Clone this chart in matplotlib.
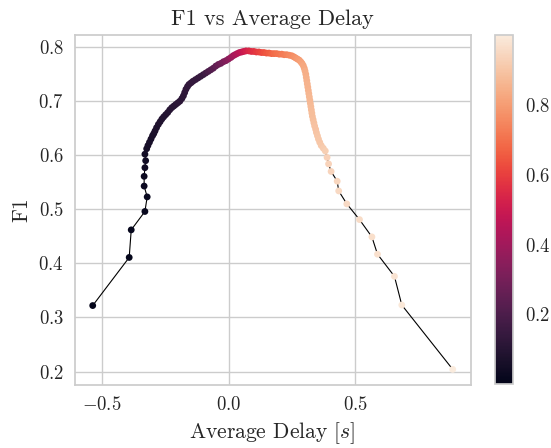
import matplotlib
matplotlib.use("Agg")
import matplotlib.pyplot as plt
import seaborn as sns

# average delay [s] per threshold
delay = [
    -0.536, -0.392, -0.384, -0.330, -0.321, -0.333, -0.333, -0.330, -0.327, -0.330, -0.323,
    -0.318, -0.312, -0.306, -0.300, -0.295, -0.290, -0.284, -0.277, -0.270, -0.263,
    -0.256, -0.248, -0.240, -0.232, -0.224, -0.216, -0.208, -0.200, -0.192, -0.184,
    -0.178, -0.173, -0.168, -0.162, -0.156, -0.148, -0.140, -0.130, -0.120, -0.110, -0.100,
    -0.090, -0.080, -0.070, -0.060, -0.050, -0.040, -0.030, -0.020, -0.010, 0.000,
    0.010, 0.018, 0.026, 0.034, 0.043, 0.052, 0.060, 0.069,
    0.080, 0.090, 0.100, 0.110, 0.120, 0.130, 0.140, 0.150, 0.160, 0.170,
    0.180, 0.190, 0.200, 0.210, 0.220, 0.230, 0.240, 0.250,
    0.258, 0.265, 0.272, 0.279, 0.285, 0.290, 0.295, 0.299,
    0.302, 0.305, 0.307, 0.309, 0.311, 0.313, 0.315, 0.317, 0.319, 0.321,
    0.323, 0.325, 0.327, 0.329, 0.331, 0.334, 0.337, 0.340, 0.344, 0.347,
    0.351, 0.355, 0.360, 0.366, 0.374,
    0.382, 0.389, 0.395, 0.405, 0.429, 0.435, 0.467, 0.517, 0.566, 0.588, 0.655, 0.684, 0.885,
]

f1 = [
    0.322, 0.411, 0.462, 0.496, 0.523, 0.543, 0.561, 0.577, 0.590, 0.602, 0.612,
    0.618, 0.624, 0.630, 0.636, 0.640, 0.645, 0.651, 0.657, 0.662, 0.667,
    0.671, 0.675, 0.679, 0.684, 0.688, 0.691, 0.694, 0.697, 0.700, 0.705,
    0.710, 0.716, 0.722, 0.727, 0.731, 0.734, 0.737, 0.740, 0.743, 0.746, 0.749,
    0.752, 0.755, 0.758, 0.761, 0.765, 0.768, 0.770, 0.773, 0.775, 0.778,
    0.781, 0.784, 0.786, 0.788, 0.790, 0.791, 0.792, 0.793,
    0.793, 0.792, 0.792, 0.791, 0.791, 0.790, 0.790, 0.789, 0.789, 0.788,
    0.788, 0.788, 0.787, 0.787, 0.786, 0.786, 0.785, 0.784,
    0.782, 0.780, 0.778, 0.776, 0.773, 0.770, 0.766, 0.761,
    0.756, 0.750, 0.744, 0.738, 0.732, 0.726, 0.720, 0.714, 0.708, 0.702,
    0.696, 0.690, 0.684, 0.678, 0.672, 0.666, 0.660, 0.654, 0.648, 0.642,
    0.636, 0.630, 0.624, 0.618, 0.613,
    0.608, 0.596, 0.584, 0.570, 0.552, 0.534, 0.510, 0.481, 0.449, 0.417, 0.376, 0.323, 0.204,
]

threshold = [
    0.005, 0.010, 0.015, 0.020, 0.025, 0.030, 0.035, 0.040, 0.045, 0.050, 0.055,
    0.060, 0.063, 0.066, 0.069, 0.072, 0.075, 0.078, 0.081, 0.084, 0.087,
    0.090, 0.093, 0.096, 0.099, 0.102, 0.105, 0.108, 0.111, 0.114, 0.117,
    0.120, 0.123, 0.126, 0.129, 0.132, 0.135, 0.138, 0.141, 0.144, 0.147, 0.150,
    0.170, 0.190, 0.210, 0.230, 0.250, 0.270, 0.290, 0.310, 0.330, 0.350,
    0.380, 0.400, 0.420, 0.440, 0.460, 0.480, 0.500, 0.520,
    0.540, 0.555, 0.570, 0.585, 0.600, 0.615, 0.630, 0.645, 0.660, 0.675,
    0.690, 0.700, 0.710, 0.720, 0.730, 0.740, 0.750, 0.760,
    0.770, 0.780, 0.790, 0.800, 0.810, 0.820, 0.825, 0.830,
    0.840, 0.843, 0.846, 0.849, 0.852, 0.855, 0.858, 0.861, 0.864, 0.867,
    0.870, 0.873, 0.876, 0.879, 0.882, 0.885, 0.888, 0.891, 0.894, 0.897,
    0.900, 0.903, 0.906, 0.910, 0.915,
    0.925, 0.930, 0.935, 0.940, 0.945, 0.950, 0.955, 0.960, 0.965, 0.970, 0.980, 0.990, 0.999,
]

sns.set_theme(style="whitegrid")
plt.rcParams["font.family"] = ["cmr10", "DejaVu Serif"]
plt.rcParams["mathtext.fontset"] = "cm"
plt.rcParams["axes.formatter.use_mathtext"] = True
plt.rcParams["axes.unicode_minus"] = True

fig = plt.figure(figsize=(5.51, 4.48), dpi=100)
ax = fig.add_axes([0.1356, 0.1400, 0.7187, 0.7819])
cax = fig.add_axes([0.8984, 0.1422, 0.0318, 0.7797])

ax.plot(delay, f1, color="black", lw=0.8, zorder=2)
sc = ax.scatter(delay, f1, c=threshold, cmap="rocket", vmin=0.0, vmax=1.0,
                s=24, linewidths=0, zorder=3)

ax.set_xticks([-0.5, 0.0, 0.5])
ax.set_yticks([0.2, 0.3, 0.4, 0.5, 0.6, 0.7, 0.8])
ax.tick_params(axis="both", labelsize=13.5, colors=".15", length=0)
ax.tick_params(axis="y", pad=8)
ax.tick_params(axis="x", pad=8)

ax.set_title("F1 vs Average Delay", fontsize=16, color=".15", pad=7)
ax.set_xlabel("Average Delay [$s$]", fontsize=15.5, color=".15", labelpad=4)
ax.set_ylabel("F1", fontsize=15.5, color=".15", labelpad=5)

cb = fig.colorbar(sc, cax=cax)
cb.set_ticks([0.2, 0.4, 0.6, 0.8])
cb.outline.set_edgecolor(".8")
cb.outline.set_linewidth(1.25)
cax.tick_params(labelsize=13.5, colors=".15", length=0, pad=9)

fig.savefig("out.png", dpi=100)
